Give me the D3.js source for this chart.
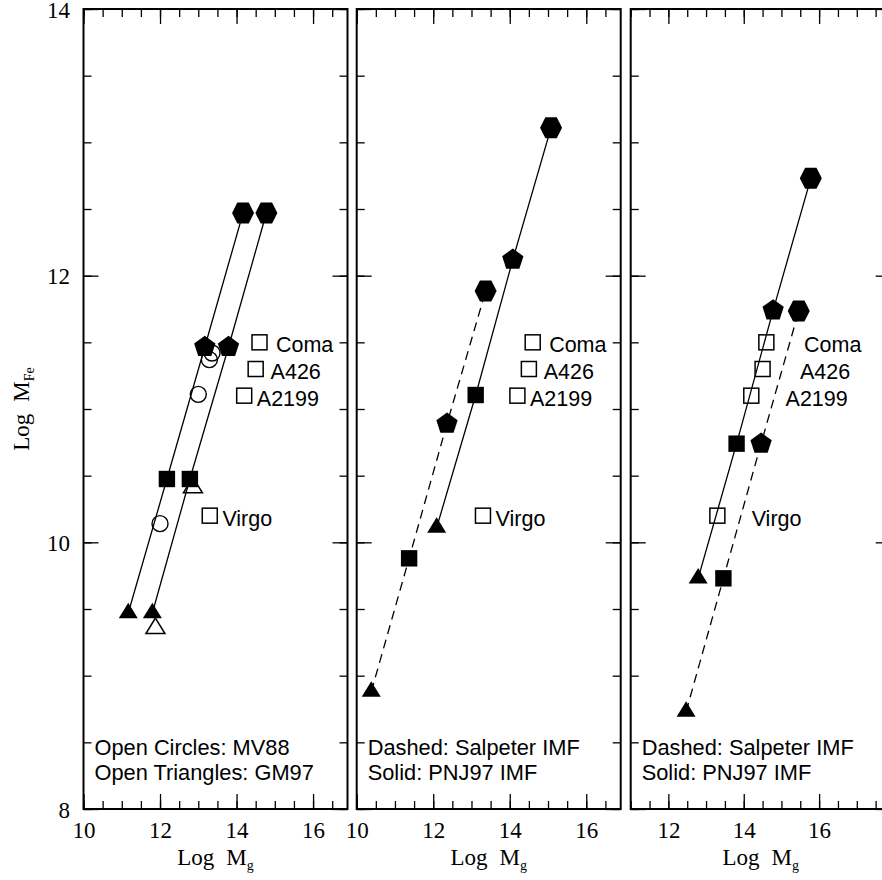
<!DOCTYPE html>
<html>
<head>
<meta charset="utf-8">
<script src="https://cdn.jsdelivr.net/npm/d3@7"></script>
<style>
  body { margin: 0; background: #fff; }
  svg { display: block; }
</style>
</head>
<body>
<svg id="chart" width="882" height="880"></svg>
<script>
// Log M_Fe vs Log M_g, three model panels

// observed clusters (open squares)
const clusterNames = ['Coma', 'A426', 'A2199', 'Virgo'];
const clusterMg = [14.6, 14.5, 14.2, 13.3];
const clusterFe = [11.5, 11.3, 11.1, 10.2];
const clusterLabelMg = [15.03, 14.89, 14.53, 13.63];   // label anchors, panels 1-2
const clusterLabelMg3 = [15.6, 15.49, 15.11, 14.21];   // label anchors, panel 3

// marker of each model point, from low to high mass
const modelShapes = ['triangle', 'square', 'pentagon', 'hexagon'];

// panel 1
const p1aMg = [11.17, 12.18, 13.17, 14.17];
const p1aFe = [9.47, 10.475, 11.465, 12.47];
const p1bMg = [11.80, 12.78, 13.79, 14.78];
const p1bFe = [9.47, 10.475, 11.465, 12.47];
const mv88Mg = [12.0, 13.0, 13.29, 13.36];
const mv88Fe = [10.14, 11.11, 11.37, 11.42];
const gm97Mg = [11.88, 12.86];
const gm97Fe = [9.355, 10.41];

// panel 2
const p2SalpMg = [10.38, 11.37, 12.36, 13.37];
const p2SalpFe = [8.88, 9.88, 10.89, 11.885];
const p2PnjMg = [12.09, 13.11, 14.08, 15.08];
const p2PnjFe = [10.11, 11.105, 12.12, 13.11];

// panel 3
const p3SalpMg = [12.47, 13.46, 14.46, 15.46];
const p3SalpFe = [8.73, 9.73, 10.74, 11.735];
const p3PnjMg = [12.79, 13.81, 14.78, 15.78];
const p3PnjFe = [9.73, 10.74, 11.74, 12.73];

const xTicksMajor = [10, 12, 14, 16, 18];
const yTicksMajor = [8, 10, 12, 14];
const yDomain = [8, 14];
const notes1 = ['Open Circles: MV88', 'Open Triangles: GM97'];
const notes23 = ['Dashed: Salpeter IMF', 'Solid: PNJ97 IMF'];

const zip = (a, b) => a.map((v, i) => [v, b[i]]);

const panels = [
  { left: 83.5, width: 264, xDomain: [10, 16.9], yLabels: true, notes: notes1, labelMg: clusterLabelMg,
    models: [{ pts: zip(p1aMg, p1aFe), dashed: false }, { pts: zip(p1bMg, p1bFe), dashed: false }],
    circles: zip(mv88Mg, mv88Fe), openTri: zip(gm97Mg, gm97Fe) },
  { left: 356.7, width: 264, xDomain: [10, 16.9], yLabels: false, notes: notes23, labelMg: clusterLabelMg,
    models: [{ pts: zip(p2SalpMg, p2SalpFe), dashed: true }, { pts: zip(p2PnjMg, p2PnjFe), dashed: false }],
    circles: [], openTri: [] },
  { left: 630.7, width: 260, xDomain: [11, 17.9], yLabels: false, notes: notes23, labelMg: clusterLabelMg3,
    models: [{ pts: zip(p3SalpMg, p3SalpFe), dashed: true }, { pts: zip(p3PnjMg, p3PnjFe), dashed: false }],
    circles: [], openTri: [] }
];

const plotTop = 9, plotBottom = 809;
const serif = '"Liberation Serif", "Times New Roman", serif';
const sans = '"Liberation Sans", Arial, Helvetica, sans-serif';

const svg = d3.select('#chart');

function polygon(pts) {
  return 'M' + pts.map(p => p[0].toFixed(2) + ',' + p[1].toFixed(2)).join('L') + 'Z';
}

function markerPath(shape) {
  if (shape === 'triangle') return polygon([[0, -10.3], [9.5, 5.2], [-9.5, 5.2]]);
  if (shape === 'square') return polygon([[-8.2, -8.2], [8.2, -8.2], [8.2, 8.2], [-8.2, 8.2]]);
  if (shape === 'pentagon') {
    return polygon(d3.range(5).map(k => {
      const a = (-90 + k * 72) * Math.PI / 180;
      return [11.2 * Math.cos(a), 11.2 * Math.sin(a)];
    }));
  }
  // hexagon, flat top
  return polygon([[-11, 0], [-5.7, -10.5], [5.7, -10.5], [11, 0], [5.7, 10.5], [-5.7, 10.5]]);
}

function styleAxis(g) {
  g.select('.domain').remove();
  g.selectAll('.tick line').attr('stroke', '#000').attr('stroke-width', 1.3);
  g.selectAll('.tick text').attr('fill', '#000').attr('font-family', serif).attr('font-size', 23);
}

function drawPanel(p) {
  const g = svg.append('g');
  const x = d3.scaleLinear().domain(p.xDomain).range([p.left, p.left + p.width]);
  const y = d3.scaleLinear().domain(yDomain).range([plotBottom, plotTop]);

  const inX = v => v >= p.xDomain[0] - 1e-9 && v <= p.xDomain[1] + 1e-9;
  const majorX = xTicksMajor.filter(inX);
  const minorX = d3.range(p.xDomain[0], p.xDomain[1] + 1e-9, 0.5);
  const minorY = d3.range(yDomain[0], yDomain[1] + 1e-9, 0.5);

  // ticks, all pointing inward
  g.append('g').attr('transform', `translate(0,${plotBottom})`)
    .call(d3.axisBottom(x).tickValues(minorX).tickSize(-8).tickFormat('')).call(styleAxis);
  g.append('g').attr('transform', `translate(0,${plotBottom})`)
    .call(d3.axisBottom(x).tickValues(majorX).tickSize(-15).tickPadding(13).tickFormat(d3.format('d')))
    .call(styleAxis);
  g.append('g').attr('transform', `translate(0,${plotTop})`)
    .call(d3.axisTop(x).tickValues(minorX).tickSize(-8).tickFormat('')).call(styleAxis);
  g.append('g').attr('transform', `translate(0,${plotTop})`)
    .call(d3.axisTop(x).tickValues(majorX).tickSize(-15).tickFormat('')).call(styleAxis);

  g.append('g').attr('transform', `translate(${p.left},0)`)
    .call(d3.axisLeft(y).tickValues(minorY).tickSize(-8).tickFormat('')).call(styleAxis);
  const yAxis = g.append('g').attr('transform', `translate(${p.left},0)`)
    .call(d3.axisLeft(y).tickValues(yTicksMajor).tickSize(-15).tickPadding(13.5)
      .tickFormat(p.yLabels ? d3.format('d') : ''))
    .call(styleAxis);
  yAxis.selectAll('.tick text').attr('dy', '0.36em');
  g.append('g').attr('transform', `translate(${p.left + p.width},0)`)
    .call(d3.axisRight(y).tickValues(minorY).tickSize(-8).tickFormat('')).call(styleAxis);
  g.append('g').attr('transform', `translate(${p.left + p.width},0)`)
    .call(d3.axisRight(y).tickValues(yTicksMajor).tickSize(-15).tickFormat('')).call(styleAxis);

  // frame
  g.append('rect')
    .attr('x', p.left).attr('y', plotTop)
    .attr('width', p.width).attr('height', plotBottom - plotTop)
    .attr('fill', 'none').attr('stroke', '#000').attr('stroke-width', 2);

  // model lines
  const line = d3.line().x(d => x(d[0])).y(d => y(d[1]));
  p.models.forEach(m => {
    g.append('path')
      .datum(m.pts)
      .attr('d', line)
      .attr('fill', 'none')
      .attr('stroke', '#000')
      .attr('stroke-width', 1.3)
      .attr('stroke-dasharray', m.dashed ? '9,6' : null);
  });

  // open circles
  g.selectAll('circle.mv88')
    .data(p.circles)
    .enter()
    .append('circle')
    .attr('class', 'mv88')
    .attr('cx', d => x(d[0]))
    .attr('cy', d => y(d[1]))
    .attr('r', 8)
    .attr('fill', 'none')
    .attr('stroke', '#000')
    .attr('stroke-width', 1.4);

  // open triangles
  g.selectAll('path.gm97')
    .data(p.openTri)
    .enter()
    .append('path')
    .attr('class', 'gm97')
    .attr('d', markerPath('triangle'))
    .attr('transform', d => `translate(${x(d[0])},${y(d[1])})`)
    .attr('fill', 'none')
    .attr('stroke', '#000')
    .attr('stroke-width', 1.5);

  // filled model markers
  p.models.forEach(m => {
    g.selectAll(null)
      .data(m.pts)
      .enter()
      .append('path')
      .attr('d', (d, i) => markerPath(modelShapes[i]))
      .attr('transform', d => `translate(${x(d[0])},${y(d[1])})`)
      .attr('fill', '#000');
  });

  // observed clusters
  const clusters = clusterNames.map((name, i) => ({ name, mg: clusterMg[i], fe: clusterFe[i], lx: p.labelMg[i] }));
  g.selectAll('rect.cluster')
    .data(clusters)
    .enter()
    .append('rect')
    .attr('class', 'cluster')
    .attr('x', d => x(d.mg) - 7.5)
    .attr('y', d => y(d.fe) - 7.5)
    .attr('width', 15)
    .attr('height', 15)
    .attr('fill', 'none')
    .attr('stroke', '#000')
    .attr('stroke-width', 1.5);

  g.selectAll('text.cluster')
    .data(clusters)
    .enter()
    .append('text')
    .attr('class', 'cluster')
    .attr('x', d => x(d.lx))
    .attr('y', d => y(d.fe) + 10)
    .attr('font-family', sans)
    .attr('font-size', 21.5)
    .text(d => d.name);

  // notes in the lower left
  g.selectAll('text.note')
    .data(p.notes)
    .enter()
    .append('text')
    .attr('class', 'note')
    .attr('x', p.left + 11)
    .attr('y', (d, i) => 755 + i * 25)
    .attr('font-family', sans)
    .attr('font-size', 21.8)
    .text(d => d);

  // x axis title
  const title = g.append('text')
    .attr('x', p.left + p.width / 2)
    .attr('y', 865)
    .attr('text-anchor', 'middle')
    .attr('font-family', serif)
    .attr('font-size', 23);
  title.append('tspan').text('Log');
  title.append('tspan').attr('dx', 12).text('M');
  title.append('tspan').attr('font-size', 14).attr('dy', 5).text('g');
}

panels.forEach(drawPanel);

// y axis title
const ylab = svg.append('text')
  .attr('transform', `translate(29,${(plotTop + plotBottom) / 2}) rotate(-90)`)
  .attr('text-anchor', 'middle')
  .attr('font-family', serif)
  .attr('font-size', 23);
ylab.append('tspan').text('Log');
ylab.append('tspan').attr('dx', 12).text('M');
ylab.append('tspan').attr('font-size', 14).attr('dy', 5).text('Fe');
</script>
</body>
</html>
